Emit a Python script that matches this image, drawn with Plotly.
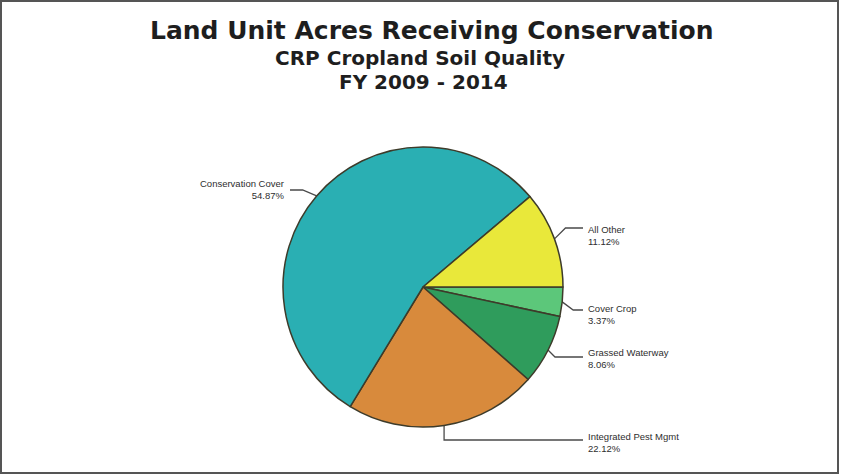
import math
import plotly.graph_objects as go

# ---- data ----
categories = ["Cover Crop", "Grassed Waterway", "Integrated Pest Mgmt", "Conservation Cover", "All Other"]
percent = [3.37, 8.06, 22.12, 54.87, 11.12]
colors = ["#5cc77a", "#2f9c5c", "#d88a3c", "#2aafb3", "#e9e83a"]

title_lines = ["Land Unit Acres Receiving Conservation", "CRP Cropland Soil Quality", "FY 2009 - 2014"]

# ---- label layout (pixels) ----
W, H = 843, 475
CX, CY, R = 423, 287, 140
label_side = ["right", "right", "right", "left", "right"]
line_y = [310, 357, 440, 190, 228]
elbow_dx = [11, 7, 0, -14, 11]
text_y = [314, 358, 442, 189, 235]
right_x = 583
left_x = 290

fig = go.Figure()

fig.add_trace(go.Pie(
    labels=categories, values=percent, sort=False, direction="clockwise", rotation=90,
    marker=dict(colors=colors, line=dict(color="#3d3b2a", width=1.5)),
    textinfo="none", hoverinfo="label+value", showlegend=False,
    domain=dict(x=[(CX - R) / W, (CX + R) / W], y=[(H - CY - R) / H, (H - CY + R) / H]),
))

total = sum(percent)
cum = 0.0
for i, (name, v) in enumerate(zip(categories, percent)):
    mid = (cum + v / 2) / total * 2 * math.pi
    cum += v
    ex = CX + R * math.cos(mid)
    ey = CY + R * math.sin(mid)
    elx = ex + elbow_dx[i]
    end_x = right_x if label_side[i] == "right" else left_x
    fig.add_trace(go.Scatter(
        x=[ex, elx, end_x], y=[ey, line_y[i], line_y[i]], mode="lines",
        line=dict(color="#4a4a4a", width=1.3), hoverinfo="skip", showlegend=False,
        xaxis="x", yaxis="y"))
    right = label_side[i] == "right"
    fig.add_annotation(x=end_x + 3 if right else end_x - 3, y=text_y[i], xref="x", yref="y",
                       text=f"{name}<br>{v:.2f}%", showarrow=False,
                       xanchor="left" if right else "right", yanchor="middle",
                       align="left" if right else "right",
                       font=dict(family="Liberation Sans, Arial", size=9.5, color="#2e2e2e"))

# titles
title_y = [30, 58, 82]
title_x = [432, 420, 423]
title_size = [25, 20, 20]
for t, tx, ty, ts in zip(title_lines, title_x, title_y, title_size):
    fig.add_annotation(x=tx, y=ty, xref="x", yref="y", text=f"<b>{t}</b>", showarrow=False,
                       xanchor="center", yanchor="middle",
                       font=dict(family="DejaVu Sans", size=ts, color="#1e1e1e"))

fig.update_layout(
    width=W, height=H, margin=dict(l=0, r=0, t=0, b=0),
    paper_bgcolor="white", plot_bgcolor="rgba(0,0,0,0)",
    xaxis=dict(range=[0, W], visible=False, domain=[0, 1], fixedrange=True),
    yaxis=dict(range=[H, 0], visible=False, domain=[0, 1], fixedrange=True),
    shapes=[dict(type="rect", xref="x", yref="y", x0=1, y0=1, x1=838, y1=473,
                 line=dict(color="#555555", width=2), fillcolor="rgba(0,0,0,0)")],
)

fig.write_html("out.html")
